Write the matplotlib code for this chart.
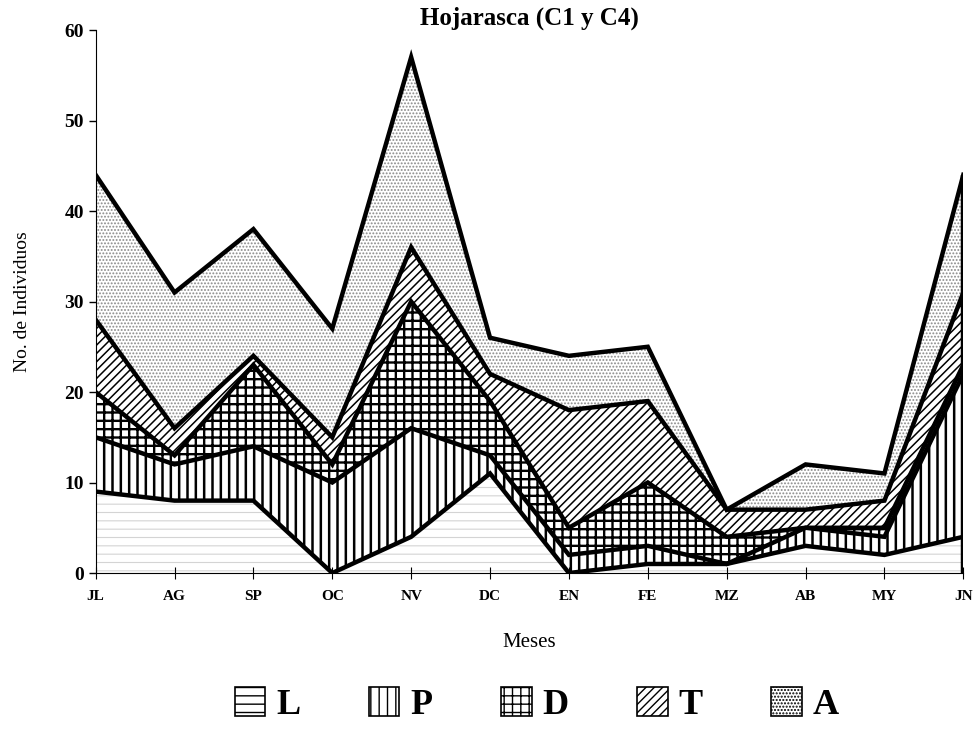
import numpy as np
import matplotlib
matplotlib.use('Agg')
import matplotlib.pyplot as plt
from matplotlib.patches import Patch

# Datos (hojarasca C1 y C4), individuos por mes y grupo
meses = ['JL', 'AG', 'SP', 'OC', 'NV', 'DC', 'EN', 'FE', 'MZ', 'AB', 'MY', 'JN']
L = [9, 8, 8, 0, 4, 11, 0, 1, 1, 3, 2, 4]
P = [6, 4, 6, 10, 12, 2, 2, 2, 0, 2, 2, 18]
D = [5, 1, 9, 2, 14, 6, 3, 7, 3, 0, 1, 1]
T = [8, 3, 1, 3, 6, 3, 13, 9, 3, 2, 3, 8]
A = [16, 15, 14, 12, 21, 4, 6, 6, 0, 5, 3, 13]
grupos = ['L', 'P', 'D', 'T', 'A']

plt.rcParams['font.family'] = ['Liberation Serif', 'DejaVu Serif']

x = np.arange(len(meses))
series = [L, P, D, T, A]
hatches = ['--', '||', '++', '////', '.....']
hcolors = ['#d4d4d4', 'black', 'black', 'black', '#8a8a8a']
hwidths = [0.8, 1.8, 1.7, 1.1, 0.9]

fig = plt.figure(figsize=(9.76, 7.51), dpi=100)
ax = fig.add_axes([0.098, 0.237, 0.889, 0.723])

base = np.zeros(len(meses))
for vals, h, hc, hw in zip(series, hatches, hcolors, hwidths):
    top = base + np.array(vals)
    with plt.rc_context({'hatch.linewidth': hw}):
        ax.fill_between(x, base, top, facecolor='white', edgecolor=hc,
                        hatch=h, linewidth=0)
    ax.plot(x, top, color='black', lw=3.2, solid_joinstyle='miter', zorder=3)
    base = top
ax.vlines(x[-1], 0, base[-1], color='black', lw=3.2, zorder=3)

ax.set_xlim(0, len(meses) - 1)
ax.set_ylim(0, 60)
ax.set_xticks(x)
ax.set_xticklabels(meses, fontsize=11, fontweight='bold')
ax.set_yticks(np.arange(0, 61, 10))
ax.tick_params(axis='y', labelsize=14, width=1, length=5)
for lab in ax.get_yticklabels():
    lab.set_fontweight('bold')
ax.tick_params(axis='x', direction='inout', length=8, pad=8)
ax.spines['top'].set_visible(False)
ax.spines['right'].set_visible(False)

ax.set_title('Hojarasca (C1 y C4)', fontsize=18, fontweight='bold', pad=2)
ax.set_xlabel('Meses', fontsize=15, labelpad=22)
ax.set_ylabel('No. de Individuos', fontsize=14, labelpad=24)

handles = []
for h, hc, hw in zip(hatches, hcolors, hwidths):
    with plt.rc_context({'hatch.linewidth': min(hw, 1.2)}):
        handles.append(Patch(facecolor='white', edgecolor='black', hatch=h,
                             linewidth=1.2))
fig.legend(handles, grupos, loc='lower center', bbox_to_anchor=(0.55, -0.005),
           ncol=5, frameon=False, prop={'size': 26, 'weight': 'bold'},
           handlelength=0.85, handleheight=0.85, handletextpad=0.3,
           columnspacing=1.9)

plt.savefig('out.png', dpi=100)
